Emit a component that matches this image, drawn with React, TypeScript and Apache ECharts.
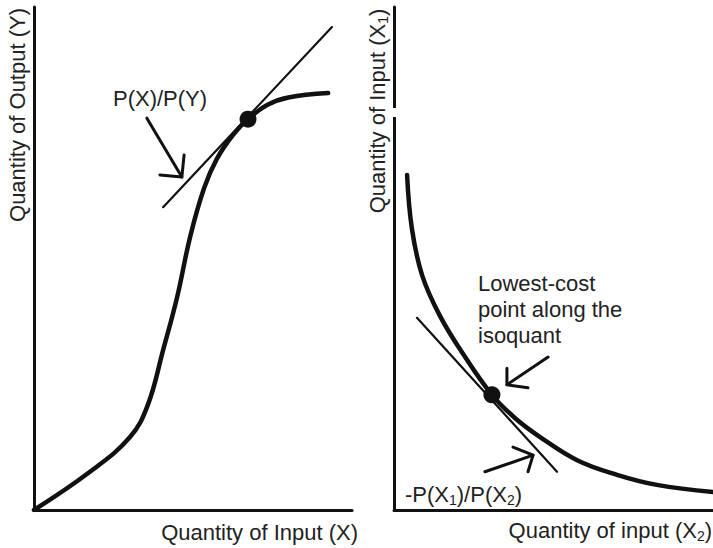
import React, { useEffect, useRef } from "react";
import * as echarts from "echarts";

// ---- Left panel: total product curve (output Y vs input X) ----
const leftCurve: number[][] = [
  [0, 0], [17.6, 7.6], [30.2, 14.5], [35.8, 20.9], [40.6, 31.8], [45.0, 42.3],
  [49.1, 54.3], [53.5, 64.0], [57.5, 69.8], [62.6, 74.6], [67.3, 77.7],
  [73.3, 80.5], [80.0, 82.0], [92.5, 82.9],
];
const leftTangent: number[][] = [[40.6, 60.2], [93.7, 96.0]];
const leftOptimum: number[][] = [[67.3, 77.7]];
const leftArrowShaft: number[][] = [[35.5, 77.9], [46.5, 66.2]];
const leftArrowHead: number[][] = [[39.6, 66.6], [46.5, 66.2], [47.2, 70.6]];

// ---- Right panel: isoquant (X1 vs X2) ----
const rightCurve: number[][] = [
  [4.1, 66.6], [5.6, 56.0], [8.8, 46.7], [14.4, 38.6], [22.3, 30.4],
  [30.7, 22.9], [37.9, 18.3], [45.8, 14.5], [57.4, 9.9], [69.9, 7.0],
  [82.4, 5.0], [100, 3.6],
];
const rightTangent: number[][] = [[7.2, 38.2], [51.1, 7.6]];
const rightOptimum: number[][] = [[30.7, 22.9]];
const rightArrow1Shaft: number[][] = [[48.3, 30.4], [35.4, 24.9]];
const rightArrow1Head: number[][] = [[35.4, 28.2], [35.4, 24.9], [42.0, 24.3]];
const rightArrow2Shaft: number[][] = [[28.5, 7.6], [43.6, 10.9]];
const rightArrow2Head: number[][] = [[37.3, 12.5], [43.6, 10.9], [42.0, 7.6]];

// ---- Texts ----
const leftYTitle = "Quantity of Output (Y)";
const leftXTitle = "Quantity of Input (X)";
const leftNote = "P(X)/P(Y)";
const rightYTitle = "Quantity of Input (X{sub|1})";
const rightXTitle = "Quantity of input (X{sub|2})";
const rightNote = "Lowest-cost\npoint along the\nisoquant";
const rightSlope = "-P(X{sub|1})/P(X{sub|2})";

const INK = "#111";
const TEXT = "#222";
const FONT = "'Liberation Sans', Arial, Helvetica, sans-serif";
const FS = 22;

const axis = (gridIndex: number) => ({
  gridIndex,
  type: "value",
  min: 0,
  max: 100,
  axisLine: { show: true, onZero: false, lineStyle: { color: INK, width: 3 } },
  axisTick: { show: false },
  axisLabel: { show: false },
  splitLine: { show: false },
});

const line = (idx: number, data: number[][], width: number, z = 2, smooth: any = false) => ({
  type: "line",
  xAxisIndex: idx,
  yAxisIndex: idx,
  data,
  symbol: "none",
  showSymbol: false,
  smooth,
  silent: true,
  z,
  lineStyle: { color: INK, width, cap: "round", join: "round" },
});

const dot = (idx: number, data: number[][]) => ({
  type: "scatter",
  xAxisIndex: idx,
  yAxisIndex: idx,
  data,
  symbol: "circle",
  symbolSize: 17,
  silent: true,
  z: 5,
  itemStyle: { color: INK, opacity: 1 },
});

const subRich = {
  sub: { fontSize: 14, fontFamily: FONT, fill: TEXT, color: TEXT, verticalAlign: "bottom", lineHeight: 26 },
};

const txt = (text: string, x: number, y: number, align: string, extra: any = {}) => ({
  type: "text",
  x,
  y,
  z: 50,
  silent: true,
  ...extra,
  style: {
    text,
    fontSize: FS,
    fontFamily: FONT,
    fill: TEXT,
    align,
    textAlign: align,
    verticalAlign: "middle",
    textVerticalAlign: "middle",
    lineHeight: 26,
    rich: subRich,
    ...(extra.style || {}),
  },
});

const option: any = {
  animation: false,
  backgroundColor: "#fff",
  grid: [
    { left: 34, top: 7, width: 318, height: 503 },
    { left: 394, top: 7, width: 319, height: 503 },
  ],
  xAxis: [axis(0), axis(1)],
  yAxis: [axis(0), axis(1)],
  series: [
    line(0, leftCurve, 4.5, 3, 0.4),
    line(0, leftTangent, 2.2),
    dot(0, leftOptimum),
    line(0, leftArrowShaft, 3),
    line(0, leftArrowHead, 3),
    line(1, rightCurve, 4.5, 3, 0.4),
    line(1, rightTangent, 2.2),
    dot(1, rightOptimum),
    line(1, rightArrow1Shaft, 3),
    line(1, rightArrow1Head, 3),
    line(1, rightArrow2Shaft, 3),
    line(1, rightArrow2Head, 3),
  ],
  graphic: [
    // gap in the right vertical axis
    { type: "rect", z: 40, silent: true, shape: { x: 387, y: 108, width: 14, height: 9 }, style: { fill: "#fff" } },
    txt(leftYTitle, 17, 115, "center", { rotation: Math.PI / 2 }),
    txt(leftXTitle, 358, 532, "right"),
    txt(leftNote, 113, 98, "left"),
    txt(rightYTitle, 377, 111, "center", { rotation: Math.PI / 2 }),
    txt(rightXTitle, 712, 530, "right"),
    txt(rightNote, 478, 309, "left"),
    txt(rightSlope, 405, 494, "left"),
  ],
};

export default function App() {
  const ref = useRef<HTMLDivElement>(null);
  useEffect(() => {
    if (!ref.current) return;
    const chart = echarts.init(ref.current, null, { renderer: "svg" });
    chart.setOption(option);
    return () => chart.dispose();
  }, []);
  return (
    <div
      ref={ref}
      style={{ position: "absolute", left: 0, top: 0, width: 713, height: 548, background: "#fff" }}
    />
  );
}
